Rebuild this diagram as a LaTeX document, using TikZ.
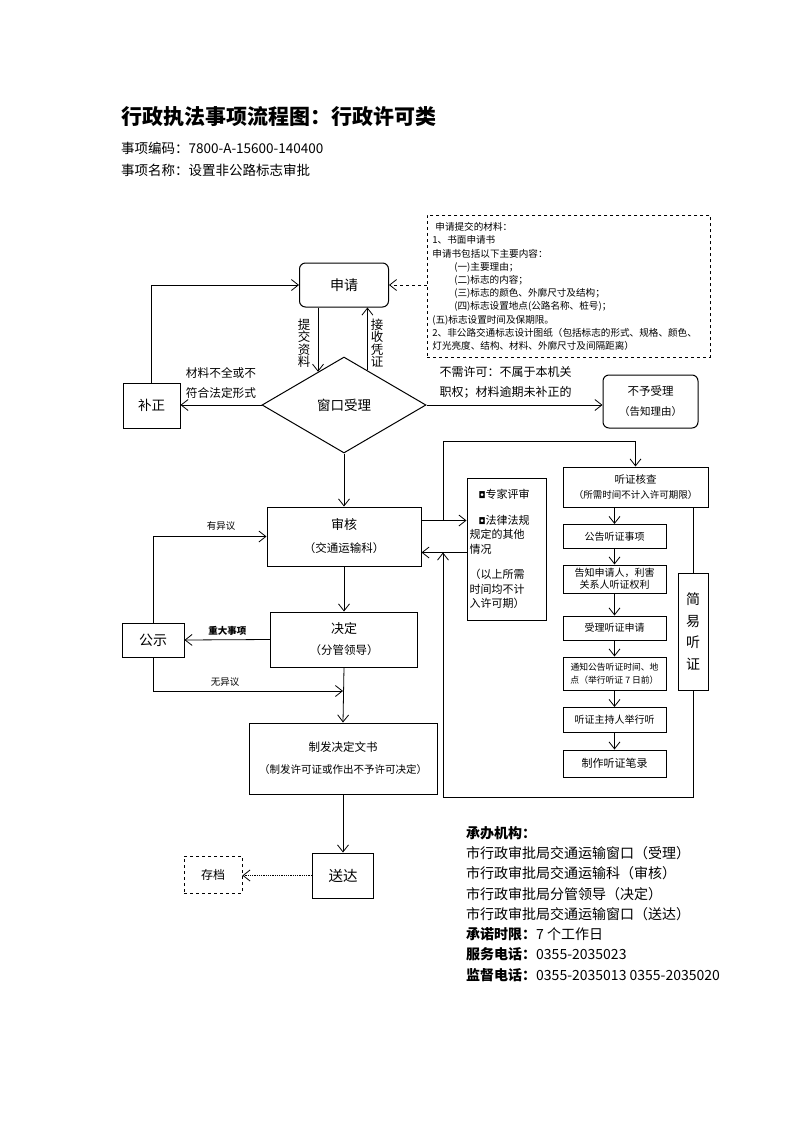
\documentclass[tikz,border=0pt]{standalone}
\usepackage{fontspec}
\setmainfont{Noto Sans CJK SC}
\newfontfamily\bulletfont{DejaVu Sans}
\usetikzlibrary{arrows.meta,positioning,shapes.geometric,calc}
\newcommand{\fs}[2]{\fontsize{#1}{#2}\selectfont}
\tikzset{
  main box/.style={draw, line width=1pt, inner sep=0pt, align=center},
  round box/.style={main box, rounded corners=6pt},
  dash box/.style={draw, dashed, line width=0.8pt, inner sep=0pt},
  hear box/.style={main box, minimum width=103pt},
  flow/.style={line width=0.8pt, -{Straight Barb[length=7pt,width=11pt]}},
}
\begin{document}
\begin{tikzpicture}[x=1pt, y=-1pt]
\useasboundingbox (0,0) rectangle (793,1122);
\fill[white] (0,0) rectangle (793,1122);
% heading
\node[font=\fs{21}{25}\bfseries, anchor=west, inner sep=0pt] (title) at (121,117) {行政执法事项流程图：行政许可类};
\node[font=\fs{13.5}{17}, anchor=west, inner sep=0pt] (code) at (121,148) {事项编码：7800-A-15600-140400};
\node[font=\fs{13.5}{17}, anchor=west, inner sep=0pt] (name) at (121,170) {事项名称：设置非公路标志审批};
% application and window
\node[round box, minimum width=89pt, minimum height=44pt, font=\fs{14}{17}] (sq) at (344,285) {申请};
\node[dash box, anchor=north west, minimum width=283pt, minimum height=142pt, text width=273pt, inner xsep=5pt, align=left, font=\fs{9.6}{13.2}] (cl) at (427,215) {\hspace*{3pt}申请提交的材料：\\
1、书面申请书\\
申请书包括以下主要内容：\\
\hspace*{22pt}(一)主要理由；\\
\hspace*{22pt}(二)标志的内容；\\
\hspace*{22pt}(三)标志的颜色、外廓尺寸及结构；\\
\hspace*{22pt}(四)标志设置地点(公路名称、桩号)；\\
(五)标志设置时间及保期限。\\
2、非公路交通标志设计图纸（包括标志的形式、规格、颜色、\\
灯光亮度、结构、材料、外廓尺寸及间隔距离）};
\node[diamond, draw, line width=1pt, minimum width=164pt, minimum height=96pt, inner sep=0pt, font=\fs{13.5}{17}] (ck) at (344,405) {窗口受理};
\node[main box, minimum width=57pt, minimum height=45pt, font=\fs{13.5}{17}] (bz) at (151.5,405.5) {补正};
\node[round box, minimum width=95pt, minimum height=53pt, font=\fs{11.5}{20}] (by) at (650.5,401.5) {不予受理\\{\fs{10.5}{20}（告知理由）}};
\node[font=\fs{12.5}{12.5}, align=center, inner sep=0pt] (tjzl) at (304,343) {提\\交\\资\\料};
\node[font=\fs{12.5}{12.5}, align=center, inner sep=0pt] (jspz) at (377,343) {接\\收\\凭\\证};
% review and decision
\node[main box, minimum width=154pt, minimum height=59pt, font=\fs{13}{23}] (sh) at (344,536.5) {审核\\{\fs{11.5}{23}（交通运输科）}};
\node[main box, minimum width=147pt, minimum height=55pt, font=\fs{13}{21}] (jd) at (344,639.5) {决定\\{\fs{11.5}{21}（分管领导）}};
\node[main box, minimum width=62pt, minimum height=34pt, font=\fs{14}{17}] (gs) at (153,640) {公示};
\node[main box, minimum width=188pt, minimum height=71pt, font=\fs{11.5}{22}] (zf) at (343,758.5) {制发决定文书\\{\fs{10.5}{22}（制发许可证或作出不予许可决定）}};
\node[main box, minimum width=61pt, minimum height=45pt, font=\fs{14.5}{17}] (sd) at (343,875.5) {送达};
\node[dash box, minimum width=58pt, minimum height=37pt, font=\fs{12}{15}] (cd) at (213,874.5) {存档};
% expert review and hearing
\node[main box, minimum width=79pt, minimum height=142pt, text width=74pt, align=left, font=\fs{11}{14.5}] (zj) at (506.5,549) {\hspace*{9pt}{\bulletfont\fs{9}{14.5}◘}专家评审\\[11pt]
\hspace*{9pt}{\bulletfont\fs{9}{14.5}◘}法律法规\\
规定的其他\\
情况\\[11pt]
（以上所需\\
时间均不计\\
入许可期）};
\node[main box, minimum width=145pt, minimum height=40pt, font=\fs{10.5}{15}] (hc) at (635.5,487) {听证核查\\{\fs{9.5}{15}（所需时间不计入许可期限）}};
\node[hear box, minimum height=24pt, font=\fs{10}{12}] (gg) at (614.5,536.5) {公告听证事项};
\node[hear box, minimum height=28pt, font=\fs{10}{12}] (gz) at (614.5,579) {告知申请人，利害\\关系人听证权利};
\node[hear box, minimum height=24pt, font=\fs{10}{12}] (sl) at (614.5,628) {受理听证申请};
\node[hear box, minimum height=33pt, font=\fs{8.8}{13}] (tz) at (614.5,673.5) {通知公告听证时间、地\\点（举行听证 7 日前）};
\node[hear box, minimum height=25pt, font=\fs{10}{12}] (zc) at (614.5,720) {听证主持人举行听};
\node[hear box, minimum height=27pt, font=\fs{11}{13}] (bl) at (614.5,763.5) {制作听证笔录};
\node[main box, minimum width=30pt, minimum height=117pt, font=\fs{14}{21.5}] (jy) at (693,631.5) {简\\易\\听\\证};
% notes
\node[anchor=north west, align=left, inner sep=0pt, font=\fs{14}{20.3}] (cb) at (466,826) {\textbf{承办机构：}\\
市行政审批局交通运输窗口（受理）\\
市行政审批局交通运输科（审核）\\
市行政审批局分管领导（决定）\\
市行政审批局交通运输窗口（送达）\\
\textbf{承诺时限：}7 个工作日\\
\textbf{服务电话：}0355-2035023\\
\textbf{监督电话：}0355-2035013 0355-2035020};
% connectors
\coordinate (lt) at (443,441);
\coordinate (lb) at (443,797);
\coordinate (wy) at (343,691);
\draw[flow] (bz.north) |- (sq.west);
\draw[flow, dashed] (cl.west |- sq.east) -- (sq.east);
\draw[flow] (ck.128 |- sq.south) -- (ck.128);
\draw[flow] (ck.56) -- (ck.56 |- sq.south);
\draw[flow] (ck.west) -- (ck.west -| bz.east) node[midway, above=3pt, align=center, font=\fs{11.7}{20}] {材料不全或不\\符合法定形式};
\draw[flow] (ck.east) -- (ck.east -| by.west) node[pos=0.45, above=3pt, align=left, font=\fs{12}{20}] {不需许可：不属于本机关\\职权；材料逾期未补正的};
\draw[flow] (ck.south) -- (sh.north);
\draw[flow] ([yshift=16pt]sh.east) -- ([yshift=16pt]sh.east -| zj.west);
\draw[flow] ([yshift=-16pt]sh.east -| zj.west) -- ([yshift=-16pt]sh.east);
\draw[flow] ([yshift=16pt]sh.east -| lt) -- (lt) -| (hc.north);
\draw[line width=0.8pt] (hc.south -| jy.north) -- (jy.north);
\draw[flow] (jy.south) |- (lb) -- ([yshift=-16pt]sh.east -| lb);
\draw[flow] (gg.north |- hc.south) -- (gg.north);
\foreach \a/\b in {gg/gz, gz/sl, sl/tz, tz/zc, zc/bl}
  \draw[flow] (\a.south) -- (\b.north);
\draw[flow] (sh.south) -- (jd.north);
\draw[flow] (jd.west) -- (gs.east) node[midway, above=1pt, font=\fs{9.5}{11}\bfseries] {重大事项};
\draw[flow] (gs.north) |- (sh.west) node[pos=0.8, above=2pt, font=\fs{9.5}{11}] {有异议};
\draw[flow] (gs.south) |- (wy) node[pos=0.69, above=1pt, font=\fs{9.5}{11}] {无异议};
\draw[flow] (jd.south) -- (zf.north);
\draw[flow] (zf.south) -- (sd.north);
\draw[flow, densely dotted] (sd.west) -- (sd.west -| cd.east);
\end{tikzpicture}
\end{document}
